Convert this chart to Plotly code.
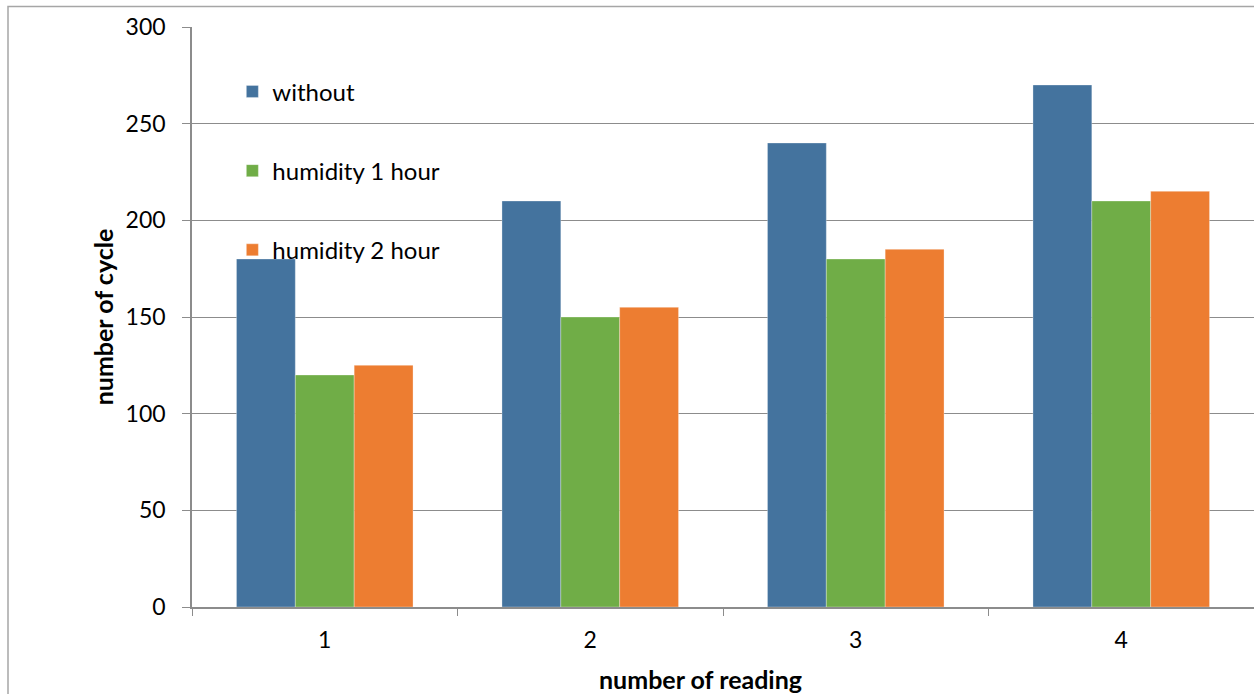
import plotly.graph_objects as go

categories = ["1", "2", "3", "4"]
without = [180, 210, 240, 270]
humidity_1h = [120, 150, 180, 210]
humidity_2h = [125, 155, 185, 215]
series_names = ["without", "humidity 1 hour", "humidity 2 hour"]
colors = ["#44739e", "#70ad47", "#ed7d31"]
y_ticks = [0, 50, 100, 150, 200, 250, 300]

FONT = "Lato, 'Open Sans', sans-serif"
W, H = 1254, 694
L, R, T, B = 192, 0, 27, 87
PW = W - L - R
PH = H - T - B

fig = go.Figure()
for i, (name, vals) in enumerate(zip(series_names, [without, humidity_1h, humidity_2h])):
    fig.add_trace(go.Bar(
        x=categories, y=vals, name=name, legendgroup=f"g{i}",
        marker=dict(color=colors[i], line=dict(color="rgba(255,255,255,0.6)", width=0.5)),
    ))

fig.update_layout(
    width=W, height=H,
    margin=dict(l=L, r=R, t=T, b=B),
    paper_bgcolor="white", plot_bgcolor="white",
    barmode="group", bargap=0.335, bargroupgap=0,
    font=dict(family=FONT, size=23, color="#000000"),
    showlegend=True,
    legend=dict(
        x=0.038, y=0.927, xanchor="left", yanchor="top",
        bgcolor="rgba(0,0,0,0)", tracegroupgap=45,
        font=dict(family=FONT, size=24, color="#000000"),
        itemwidth=30,
    ),
    xaxis=dict(
        type="category", tickson="boundaries", ticks="outside", ticklen=7,
        tickcolor="#8c8c8c", showline=True, linecolor="#8c8c8c", linewidth=1.5,
        showgrid=False, ticklabelstandoff=12,
        tickfont=dict(family=FONT, size=23),
    ),
    yaxis=dict(
        range=[0, 300], tickvals=y_ticks, ticks="outside", ticklen=8,
        tickcolor="#8c8c8c", showline=True, linecolor="#8c8c8c", linewidth=1.5,
        showgrid=True, gridcolor="#8c8c8c", gridwidth=1, zeroline=False,
        ticklabelstandoff=12,
        tickfont=dict(family=FONT, size=23),
        title=dict(text="<b>number of cycle</b>", font=dict(family=FONT, size=25), standoff=5),
    ),
)

# x-axis title (centred on the chart area, as in the original)
fig.add_annotation(text="<b>number of reading</b>", xref="paper", yref="paper",
                   x=(700 - L) / PW, y=-(679 - (T + PH)) / PH,
                   xanchor="center", yanchor="middle", showarrow=False,
                   font=dict(family=FONT, size=25, color="#000000"))

# outer chart-area frame
fig.add_shape(type="rect", xref="paper", yref="paper",
              x0=-(L - 8) / PW, x1=1.05, y0=-0.3, y1=1 + (T - 6.5) / PH,
              line=dict(color="#a6a6a6", width=1.5), fillcolor="rgba(0,0,0,0)", layer="below")

fig.write_html(
    "out.html",
    config={"displayModeBar": False},
    post_script="document.body.style.margin='0';document.body.style.overflow='hidden';",
)
